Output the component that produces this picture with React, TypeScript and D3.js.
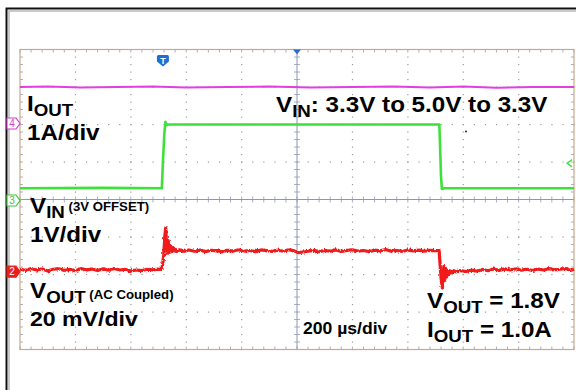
import React from "react";
import * as d3 from "d3";

// Scope capture: load-transient response, 200 µs/div, 10 x 8 divisions
const W = 576;
const H = 390;

const TIME_DOMAIN: [number, number] = [-1000, 1000]; // µs
const DIV_DOMAIN: [number, number] = [-4, 4];

// Channel 4 — output current (1 A/div, ground marker at +2 div)
const IOUT_A: [number, number][] = [
  [-1000, 1.0], [-900, 1.01], [-780, 0.99], [-650, 1.0], [-520, 1.01], [-400, 0.99],
  [-250, 1.0], [-100, 1.01], [50, 0.99], [200, 1.0], [350, 1.01], [480, 0.99],
  [600, 1.01], [720, 0.98], [850, 1.0], [1000, 1.0],
];

// Channel 3 — input voltage (1 V/div, 3 V offset, marker at 0 div)
const VIN_V: [number, number][] = [
  [-1000, 3.3], [-700, 3.31], [-488, 3.3], [-484, 4.0], [-479, 4.75], [-475, 5.07],
  [-471, 4.99], [-460, 5.0], [0, 5.0], [514, 5.0], [517, 4.3], [520, 3.6],
  [523, 3.28], [530, 3.3], [1000, 3.3],
];

// Channel 2 — output voltage, AC coupled (20 mV/div, marker at -1.87 div)
const VOUT_MV: [number, number][] = [
  [-1000, 0.3], [-980, -0.5], [-960, 0.6], [-940, -0.2], [-920, 0.4], [-900, -0.7],
  [-880, 0.2], [-860, 0.5], [-840, -0.4], [-820, 0.1], [-800, -0.6], [-780, 0.5],
  [-760, -0.1], [-740, 0.3], [-720, -0.5], [-700, 0.4], [-680, -0.3], [-660, 0.6],
  [-640, -0.2], [-620, 0.1], [-600, -0.7], [-580, -0.2], [-560, -0.5], [-540, 0.2],
  [-520, -0.1], [-500, 0.3], [-488, 0.1],
  [-482, 6], [-477, 18], [-474, 22.3], [-471, 14], [-468, 8.5], [-465, 15.5],
  [-462, 9], [-459, 13], [-456, 9.5], [-453, 12], [-450, 9.8], [-447, 11.2],
  [-444, 10], [-438, 10.8], [-432, 9.6], [-425, 10.6],
  [-410, 9.7], [-390, 10.5], [-370, 9.8], [-350, 10.4], [-330, 9.6], [-310, 10.3],
  [-290, 10.0], [-270, 9.5], [-250, 10.4], [-230, 9.9], [-210, 10.6], [-190, 9.8],
  [-170, 10.2], [-150, 9.6], [-130, 10.5], [-110, 10.1], [-90, 9.7], [-70, 10.4],
  [-50, 9.8], [-30, 10.6], [-10, 10.0], [5, 9.0], [20, 9.4], [40, 9.8], [60, 10.3],
  [80, 9.6], [100, 10.2], [120, 9.9], [140, 10.5], [160, 9.7], [180, 10.3],
  [200, 10.6], [220, 9.9], [240, 10.2], [260, 9.6], [280, 10.4], [300, 10.0],
  [320, 10.7], [340, 9.8], [360, 10.2], [380, 9.7], [400, 10.5], [420, 10.0],
  [440, 10.4], [460, 9.8], [480, 10.3], [500, 10.1], [513, 10.2],
  [517, 2], [521, -6], [525, -9.8], [528, -3], [530, 1.8], [533, -5.5], [536, 0.8],
  [539, -4], [542, -0.2], [545, -2.8], [548, -0.5], [551, -2], [555, -0.8],
  [560, -1.6], [566, -0.6], [574, -1.2],
  [590, -0.5], [610, -1.0], [630, -0.3], [650, -0.9], [670, 0.1], [690, -0.6],
  [710, 0.3], [730, -0.4], [750, 0.4], [770, -0.2], [790, 0.5], [810, -0.3],
  [830, 0.2], [850, -0.5], [870, 0.3], [890, -0.2], [910, 0.5], [930, -0.1],
  [950, 0.2], [970, 0.6], [990, -0.3], [1000, 0.2],
];

// Channel settings: reference position (div), scale per div, offset
const CH4_REF = 2;
const CH4_PER_DIV = 1;
const CH3_REF = 0;
const CH3_OFFSET = 3;
const CH3_PER_DIV = 1;
const CH2_REF = -1.87;
const CH2_PER_DIV = 20;
const TRIG_LEVEL_V = 3.97;
const TRIG_TIME = -484;

const X_DIVS = d3.range(0, 11);
const Y_DIVS = d3.range(0, 9);

const FONT = "'Liberation Sans', Arial, Helvetica, sans-serif";
const SX = 1.1;

const x = d3.scaleLinear().domain(TIME_DOMAIN).range([20, 574]);
const y = d3.scaleLinear().domain(DIV_DOMAIN).range([349.5, 49.5]);
const xDiv = d3.scaleLinear().domain([0, 10]).range([20, 574]);
const yDiv = d3.scaleLinear().domain([0, 8]).range([49.5, 349.5]);

const lineOf = (toDiv: (v: number) => number) =>
  d3
    .line<[number, number]>()
    .x((d) => x(d[0]))
    .y((d) => y(toDiv(d[1])));

const ioutPath = lineOf((a) => CH4_REF + a / CH4_PER_DIV)(IOUT_A) ?? "";
const vinPath = lineOf((v) => CH3_REF + (v - CH3_OFFSET) / CH3_PER_DIV)(VIN_V) ?? "";
const voutPath = lineOf((mv) => CH2_REF + mv / CH2_PER_DIV)(VOUT_MV) ?? "";

function Grid() {
  const x0 = xDiv(0);
  const x1 = xDiv(10);
  const y0 = yDiv(0);
  const y1 = yDiv(8);
  const dots: JSX.Element[] = [];
  const ticks: JSX.Element[] = [];
  const minorX = d3.range(0, 51).map((i) => xDiv(i / 5));
  const minorY = d3.range(0, 41).map((i) => yDiv(i / 5));
  // dotted division lines
  X_DIVS.slice(1, 10).forEach((i) => {
    if (i === 5) return;
    minorY.forEach((py, k) =>
      dots.push(<rect key={`vx${i}-${k}`} x={xDiv(i) - 0.5} y={py - 0.5} width={1.2} height={1.2} fill="#9a9a9a" />)
    );
  });
  Y_DIVS.slice(1, 8).forEach((j) => {
    if (j === 4) return;
    minorX.forEach((px, k) =>
      dots.push(<rect key={`hy${j}-${k}`} x={px - 0.5} y={yDiv(j) - 0.5} width={1.2} height={1.2} fill="#9a9a9a" />)
    );
  });
  // minor ticks on centre lines and frame edges
  const cx = xDiv(5);
  const cy = yDiv(4);
  minorY.forEach((py, k) => {
    ticks.push(<line key={`cty${k}`} x1={cx - 3} x2={cx + 3} y1={py} y2={py} />);
    ticks.push(<line key={`lty${k}`} x1={x0} x2={x0 + 3} y1={py} y2={py} />);
    ticks.push(<line key={`rty${k}`} x1={x1 - 3} x2={x1} y1={py} y2={py} />);
  });
  minorX.forEach((px, k) => {
    ticks.push(<line key={`ctx${k}`} x1={px} x2={px} y1={cy - 3} y2={cy + 3} />);
    ticks.push(<line key={`ttx${k}`} x1={px} x2={px} y1={y0} y2={y0 + 3} />);
    ticks.push(<line key={`btx${k}`} x1={px} x2={px} y1={y1 - 3} y2={y1} />);
  });
  return (
    <g>
      {dots}
      <g stroke="#a8b0c4" strokeWidth={1}>{ticks}</g>
      <line x1={cx} x2={cx} y1={y0} y2={y1} stroke="#8d97b4" strokeWidth={1} />
      <line x1={x0} x2={x1} y1={cy} y2={cy} stroke="#8d97b4" strokeWidth={1} />
      <rect x={x0} y={y0} width={x1 - x0} height={y1 - y0} fill="none" stroke="#c9a88a" strokeWidth={1.2} />
    </g>
  );
}

function ChannelTag({ cy, num, color, filled }: { cy: number; num: string; color: string; filled?: boolean }) {
  const pts = [
    [7, cy - 5.5],
    [16, cy - 5.5],
    [20, cy],
    [16, cy + 5.5],
    [7, cy + 5.5],
  ]
    .map((p) => p.join(","))
    .join(" ");
  return (
    <g>
      <polygon points={pts} fill={filled ? color : "#ffffff"} stroke={color} strokeWidth={1.2} />
      <text x={12} y={cy + 3.8} fontSize={10} fontFamily={FONT} fill={filled ? "#ffffff" : color} textAnchor="middle">
        {num}
      </text>
    </g>
  );
}

// Label with a main part, an optional subscript and an optional tail
function Label({
  x0,
  y0,
  main,
  sub,
  tail,
  size = 22,
  subSize = 17,
  tailSize,
  tailDy = 0,
}: {
  x0: number;
  y0: number;
  main: string;
  sub?: string;
  tail?: string;
  size?: number;
  subSize?: number;
  tailSize?: number;
  tailDy?: number;
}) {
  return (
    <g transform={`translate(${x0},${y0}) scale(${SX},1)`}>
      <text x={0} y={0} fontFamily={FONT} fontWeight="bold" fontSize={size} fill="#000">
        <tspan>{main}</tspan>
        {sub && (
          <tspan fontSize={subSize} dy={5}>
            {sub}
          </tspan>
        )}
        {tail && (
          <tspan fontSize={tailSize ?? size} dy={(sub ? -5 : 0) + tailDy}>
            {tail}
          </tspan>
        )}
      </text>
    </g>
  );
}

export default function App() {
  const trigX = x(TRIG_TIME);
  const trigY = y(CH3_REF + (TRIG_LEVEL_V - CH3_OFFSET) / CH3_PER_DIV);
  return (
    <div style={{ position: "fixed", left: 0, top: 0, width: W, height: H, background: "#fff" }}>
      <svg width={W} height={H} viewBox={`0 0 ${W} ${H}`} style={{ display: "block" }}>
        <defs>
          {/* sample-to-sample fuzz of the acquired red trace */}
          <filter id="traceFuzz" x="-5%" y="-20%" width="110%" height="140%">
            <feTurbulence type="fractalNoise" baseFrequency="0.7 0.35" numOctaves={2} seed={3} result="n" />
            <feDisplacementMap in="SourceGraphic" in2="n" scale={3.2} xChannelSelector="R" yChannelSelector="G" />
          </filter>
        </defs>
        <rect x={0} y={0} width={W} height={H} fill="#ffffff" />
        {/* outer panel frame */}
        <rect x={9} y={11} width={W + 10} height={H + 10} fill="none" stroke="#b9b9b9" strokeWidth={1.5} />
        <rect x={6.5} y={8.5} width={W + 10} height={H + 10} fill="none" stroke="#111" strokeWidth={2} />

        <Grid />

        {/* traces */}
        <path d={ioutPath} fill="none" stroke="#e23ee0" strokeWidth={2} />
        <path d={vinPath} fill="none" stroke="#3ee03a" strokeWidth={2.6} strokeLinejoin="round" />
        <path
          d={voutPath}
          fill="none"
          stroke="#f01a1a"
          strokeWidth={3.2}
          strokeLinejoin="round"
          filter="url(#traceFuzz)"
        />

        {/* stray pixel on the display */}
        <circle cx={466} cy={131.5} r={1} fill="#222" />

        {/* trigger position and level markers */}
        <path
          d={`M${trigX - 4.5},${55} h9 a1.5,1.5 0 0 1 1.5,1.5 v5 l-6,5 l-6,-5 v-5 a1.5,1.5 0 0 1 1.5,-1.5 z`}
          fill="#1f6fd1"
        />
        <text x={trigX} y={63.5} fontSize={9} fontWeight="bold" fontFamily={FONT} fill="#fff" textAnchor="middle">
          T
        </text>
        <path d={`M${xDiv(5) - 4},49.5 h8 l-4,5 z`} fill="#2a6fd0" />
        <path d={`M${xDiv(10) - 2},${trigY - 3.5} l-5,3.5 l5,3.5`} fill="none" stroke="#3ee03a" strokeWidth={1.3} />

        {/* channel ground markers */}
        <ChannelTag cy={y(CH4_REF) - 1} num="4" color="#d63cd0" />
        <ChannelTag cy={y(CH3_REF) + 1} num="3" color="#3cc43a" />
        <ChannelTag cy={y(CH2_REF) + 2} num="2" color="#e8201c" filled />

        {/* annotations */}
        <Label x0={27} y0={111} main="I" sub="OUT" />
        <Label x0={27} y0={140} main="1A/div" />

        <Label x0={276} y0={111.5} main="V" sub="IN" tail=": 3.3V to 5.0V to 3.3V" />

        <Label x0={30} y0={213} main="V" sub="IN" tail=" (3V OFFSET)" tailSize={12} tailDy={-2} />
        <Label x0={30} y0={241.5} main="1V/div" />

        <Label x0={30} y0={298} main="V" sub="OUT" tail=" (AC Coupled)" tailSize={12} tailDy={1} />
        <Label x0={30} y0={326} main="20 mV/div" size={21} />

        <Label x0={303} y0={333.5} main="200 µs/div" size={16} />

        <Label x0={427} y0={308} main="V" sub="OUT" tail=" = 1.8V" />
        <Label x0={427} y0={337} main="I" sub="OUT" tail=" = 1.0A" />
      </svg>
    </div>
  );
}
